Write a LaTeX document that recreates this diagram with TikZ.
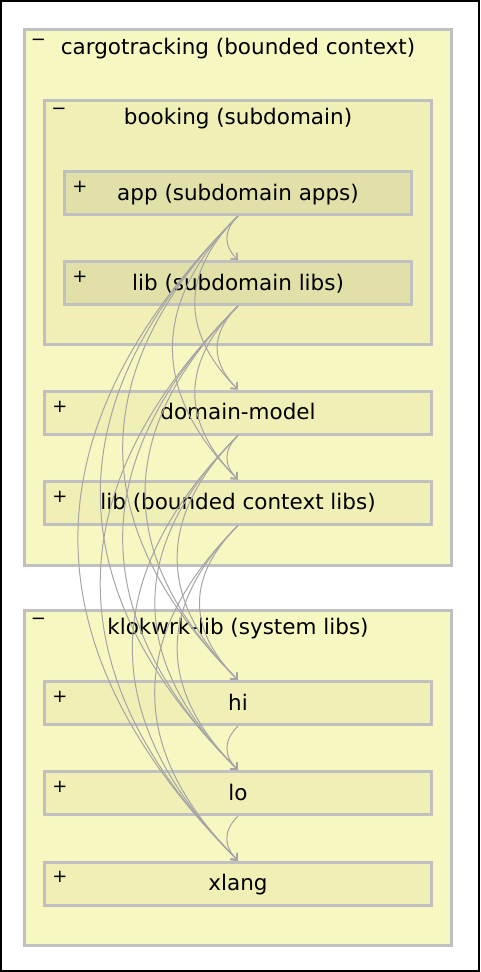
\documentclass[tikz,border=0pt]{standalone}
\usepackage{fontspec}
\setsansfont{DejaVu Sans}
\usetikzlibrary{arrows.meta}

\definecolor{ctxfill}{RGB}{247,247,193}
\definecolor{subfill}{RGB}{239,239,182}
\definecolor{appfill}{RGB}{224,224,168}
\definecolor{rimgray}{RGB}{192,192,192}
\definecolor{depgray}{RGB}{165,165,165}

\begin{document}
\begin{tikzpicture}[
        x=1pt, y=1pt,
        group/.style={draw=rimgray, line width=3pt, fill=ctxfill},
        module/.style={draw=rimgray, line width=3pt, fill=subfill, minimum width=387pt, minimum height=43pt,
          font=\sffamily\fontsize{21.5}{24}\selectfont, text height=16pt, text depth=2pt},
        title/.style={font=\sffamily\fontsize{21.5}{24}\selectfont, text height=16pt, text depth=2pt},
        toggle/.style={font=\sffamily\fontsize{18}{20}\selectfont, anchor=base, inner sep=0pt},
        dep/.style={draw=depgray, line width=1pt, -{Straight Barb[length=5pt,width=9pt,line width=1.5pt]},
          out=225, in=135, looseness=1.2},
      ]
        \useasboundingbox (0,0) rectangle (480,-972);
        \draw[line width=2pt] (1,-1) rectangle (479,-971);

        % Bounded context
        \node[group, minimum width=427pt, minimum height=536pt] (cargo) at (238,-297.5) {};
        \node[title] (cargotitle) at (238,-47) {cargotracking (bounded context)};
        \node[toggle] (cargotoggle) at (38.5,-45.5) {−};

        \node[group, fill=subfill, minimum width=387pt, minimum height=244pt] (booking) at (238,-222.5) {};
        \node[title] (bookingtitle) at (238,-117) {booking (subdomain)};
        \node[toggle] (bookingtoggle) at (59,-114.5) {−};

        \node[module, fill=appfill, minimum width=347pt] (app)    at (238,-193) {app (subdomain apps)};
        \node[module, fill=appfill, minimum width=347pt] (libsub) at (238,-283) {lib (subdomain libs)};
        \node[toggle] (apptoggle)    at (80,-192) {+};
        \node[toggle] (libsubtoggle) at (80,-282) {+};

        \node[module] (model) at (238,-412.5) {domain-model};
        \node[module] (libbc) at (238,-502.5) {lib (bounded context libs)};
        \node[toggle] (modeltoggle) at (60,-412) {+};
        \node[toggle] (libbctoggle) at (60,-502) {+};

        % System libs
        \node[group, minimum width=427pt, minimum height=335pt] (klokwrk) at (238,-778) {};
        \node[title] (klokwrktitle) at (238,-627) {klokwrk-lib (system libs)};
        \node[toggle] (klokwrktoggle) at (38.5,-624.5) {−};

        \node[module] (hi)    at (238,-703)   {hi};
        \node[module] (lo)    at (238,-793)   {lo};
        \node[module] (xlang) at (238,-883.5) {xlang};
        \node[toggle] (hitoggle)    at (60,-702) {+};
        \node[toggle] (lotoggle)    at (60,-792) {+};
        \node[toggle] (xlangtoggle) at (60,-882) {+};

        % Dependencies
        \draw[dep] (app.south) to (libsub.north);
        \draw[dep] (app.south) to (model.north);
        \draw[dep] (app.south) to (libbc.north);
        \draw[dep] (app.south) to (hi.north);
        \draw[dep] (app.south) to (lo.north);
        \draw[dep] (app.south) to (xlang.north);

        \draw[dep] (libsub.south) to (model.north);
        \draw[dep] (libsub.south) to (libbc.north);
        \draw[dep] (libsub.south) to (hi.north);
        \draw[dep] (libsub.south) to (lo.north);
        \draw[dep] (libsub.south) to (xlang.north);

        \draw[dep] (model.south) to (libbc.north);
        \draw[dep] (model.south) to (hi.north);
        \draw[dep] (model.south) to (lo.north);
        \draw[dep] (model.south) to (xlang.north);

        \draw[dep] (libbc.south) to (hi.north);
        \draw[dep] (libbc.south) to (lo.north);
        \draw[dep] (libbc.south) to (xlang.north);

        \draw[dep] (hi.south) to (lo.north);
        \draw[dep] (lo.south) to (xlang.north);
      \end{tikzpicture}
\end{document}
